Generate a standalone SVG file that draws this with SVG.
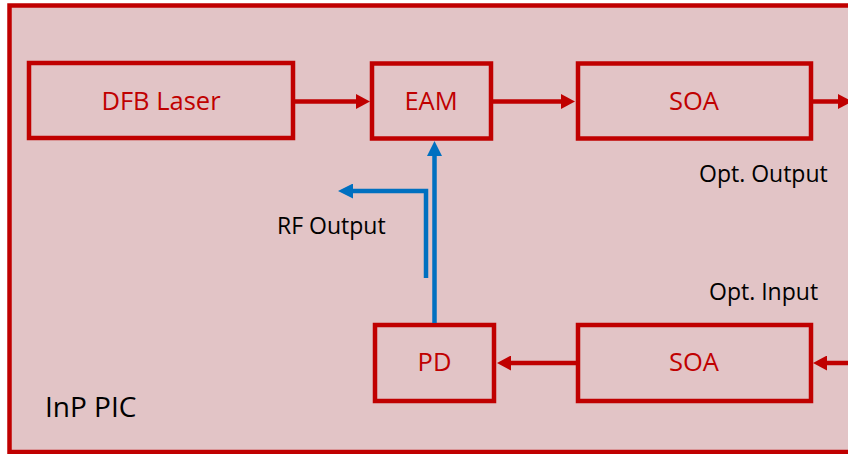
<svg xmlns="http://www.w3.org/2000/svg" width="848" height="454" viewBox="0 0 848 454">
<defs>
<style>
.box{fill:none;stroke:#C00000;stroke-width:4.5}
.lbl{font-family:"Open Sans","Noto Sans",sans-serif;font-size:25.5px;fill:#C00000;text-anchor:middle}
.txt{font-family:"Open Sans","Noto Sans",sans-serif;font-size:23px;fill:#000}
.red{fill:none;stroke:#C00000;stroke-width:4.5}
.blue{fill:none;stroke:#0070C0;stroke-width:4.5;stroke-linejoin:miter}
</style>
<marker id="ar" markerUnits="userSpaceOnUse" markerWidth="14" markerHeight="15" refX="7" refY="7.5" orient="auto">
<path d="M0,0 L14,7.5 L0,15 z" fill="#C00000"/>
</marker>
<marker id="ab" markerUnits="userSpaceOnUse" markerWidth="15" markerHeight="15" refX="8" refY="7.5" orient="auto">
<path d="M0,0 L15,7.5 L0,15 z" fill="#0070C0"/>
</marker>
</defs>
<rect x="0" y="0" width="848" height="454" fill="#ffffff"/>
<rect id="pic" x="9.5" y="5.5" width="850" height="446.5" fill="#E2C4C6" stroke="#C00000" stroke-width="4.5"/>
<text class="txt" x="45" y="417" style="font-size:28px">InP PIC</text>
<g id="dfb"><rect class="box" x="29" y="63" width="264" height="75"/><text class="lbl" x="161" y="109.5">DFB Laser</text></g>
<g id="eam"><rect class="box" x="372" y="63.5" width="119" height="75"/><text class="lbl" x="431" y="109.5">EAM</text></g>
<g id="soa1"><rect class="box" x="578" y="63.5" width="233" height="75"/><text class="lbl" x="694" y="109.5">SOA</text></g>
<g id="pd"><rect class="box" x="375" y="325" width="119" height="76"/><text class="lbl" x="434.5" y="371">PD</text></g>
<g id="soa2"><rect class="box" x="578" y="325" width="233" height="76"/><text class="lbl" x="694" y="371">SOA</text></g>
<g id="connectors">
<line class="red" x1="293" y1="101.5" x2="363" y2="101.5" marker-end="url(#ar)"/>
<line class="red" x1="491" y1="101.5" x2="568" y2="101.5" marker-end="url(#ar)"/>
<line class="red" x1="811" y1="101.5" x2="845" y2="101.5" marker-end="url(#ar)"/>
<line class="red" x1="850" y1="363" x2="820" y2="363" marker-end="url(#ar)"/>
<line class="red" x1="578" y1="363" x2="504" y2="363" marker-end="url(#ar)"/>
<line class="blue" x1="434.5" y1="323" x2="434.5" y2="148" marker-end="url(#ab)"/>
<path class="blue" d="M426,278 V191 H345" marker-end="url(#ab)"/>
</g>
<text class="txt" x="699" y="182">Opt. Output</text>
<text class="txt" x="277" y="234">RF Output</text>
<text class="txt" x="709" y="300">Opt. Input</text>
</svg>
